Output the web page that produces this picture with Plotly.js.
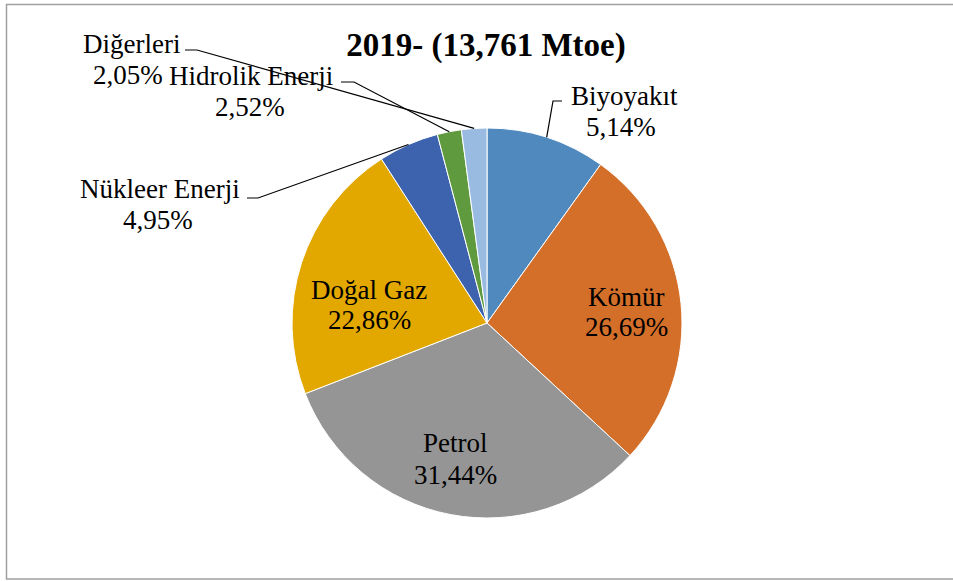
<!DOCTYPE html>
<html>
<head>
<meta charset="utf-8">
<script src="https://cdn.plot.ly/plotly-3.0.1.min.js"></script>
<style>html,body{margin:0;padding:0;background:#fff;}#chart{width:953px;height:581px;}</style>
</head>
<body>
<div id="chart"></div>
<script>
// ---- data ----
const categories = ["Biyoyakıt", "Kömür", "Petrol", "Doğal Gaz", "Nükleer Enerji", "Hidrolik Enerji", "Diğerleri"];
// slice sizes as drawn in the picture (% of the circle)
const sliceValues = [9.9, 27.0, 32.2, 21.8, 5.0, 2.0, 2.1];
// percentages printed on the labels
const labelPercents = ["5,14%", "26,69%", "31,44%", "22,86%", "4,95%", "2,52%", "2,05%"];
const titleText = "2019- (13,761 Mtoe)";

// ---- style ----
const FONT = "Liberation Serif";
const colors = ["#4F89BE", "#D46F2A", "#959595", "#E3A800", "#3D63AE", "#5F9B3E", "#9ABBE1"];
const W = 953, H = 581;
const cx = 487, cy = 323, R = 195;
// name-line centres (px), percent-line centres (px); leader ticks (px), null = label inside slice
const namePos = [[624, 96], [626, 297], [455, 443], [369, 290], [160, 189], [251, 76], [131, 44]];
const pctPos  = [[621, 127], [626, 327], [455, 475], [369, 320], [158, 220], [250, 107], [128, 75]];
const leaderTick = [[[562, 101], [553, 101]], null, null, null, [[247, 198], [258, 198]], [[341, 82], [354, 82]], [[185, 50], [197, 50]]];

const px = x => x / W;
const py = y => 1 - y / H;

const total = sliceValues.reduce((a, b) => a + b, 0);
let cum = 0;
const midAngles = sliceValues.map(v => { const m = (cum + v / 2) / total * 2 * Math.PI; cum += v; return m; });

const annotations = [];
categories.forEach((c, i) => {
  [[c, namePos[i]], [labelPercents[i], pctPos[i]]].forEach(([t, p]) => {
    annotations.push({
      x: px(p[0]), y: py(p[1]), xref: 'paper', yref: 'paper',
      xanchor: 'center', yanchor: 'middle', showarrow: false, align: 'center',
      text: t, font: {family: FONT, size: 27, color: '#000'}
    });
  });
});

const shapes = [{
  type: 'rect', xref: 'paper', yref: 'paper',
  x0: px(6.5), y0: py(4.5), x1: px(960), y1: py(579),
  line: {color: '#A0A0A0', width: 1.5}, fillcolor: 'rgba(0,0,0,0)', layer: 'below'
}];
leaderTick.forEach((t, i) => {
  if (!t) return;
  const ex = cx + R * Math.sin(midAngles[i]);
  const ey = cy - R * Math.cos(midAngles[i]);
  shapes.push({
    type: 'path', xref: 'paper', yref: 'paper',
    path: `M ${px(t[0][0])},${py(t[0][1])} L ${px(t[1][0])},${py(t[1][1])} L ${px(ex)},${py(ey)}`,
    line: {color: '#000', width: 1.2}
  });
});

const trace = {
  type: 'pie', labels: categories, values: sliceValues, sort: false,
  direction: 'clockwise', rotation: 0, textinfo: 'none', hoverinfo: 'label',
  marker: {colors: colors, line: {color: '#fff', width: 1}},
  domain: {x: [px(cx - R), px(cx + R)], y: [py(cy + R), py(cy - R)]},
  showlegend: false
};

const layout = {
  width: W, height: H, margin: {l: 0, r: 0, t: 0, b: 0},
  paper_bgcolor: '#fff', plot_bgcolor: '#fff', showlegend: false,
  font: {family: FONT},
  title: {text: '<b>' + titleText + '</b>', x: px(486), y: py(44), xanchor: 'center', yanchor: 'middle',
          xref: 'paper', yref: 'paper',
          font: {family: FONT, size: 33, color: '#000'}},
  annotations: annotations, shapes: shapes
};

Plotly.newPlot('chart', [trace], layout, {displayModeBar: false, staticPlot: true});
</script>
</body>
</html>
